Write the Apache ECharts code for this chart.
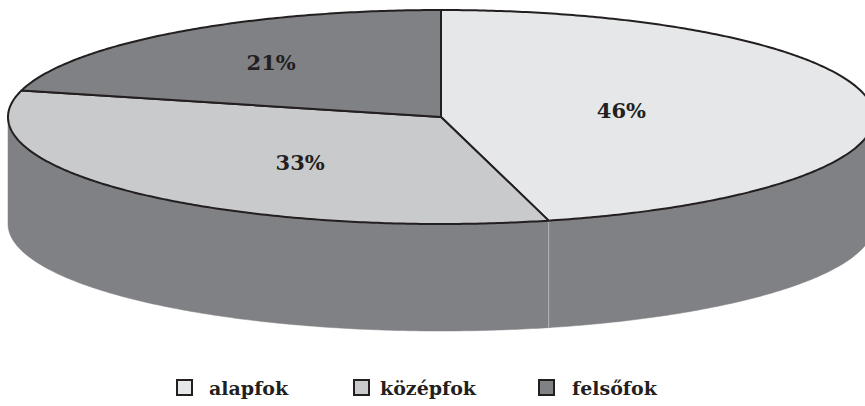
<!DOCTYPE html>
<html><head><meta charset="utf-8">
<script src="https://cdn.jsdelivr.net/npm/echarts@6/dist/echarts.min.js"></script>
<style>html,body{margin:0;padding:0;background:#fff}#c{width:865px;height:406px}</style>
</head><body><div id="c"></div>
<script>
const categories = ['alapfok', 'középfok', 'felsőfok'];
const values = [46, 33, 21];
const topColors = ['#e6e7e8', '#c9cacc', '#808185'];
const sideColor = '#808185';
const labelK = [[0.42, 0.52], [0.46, 0.6], [0.64, 0.64]];
const legendLeft = [176, 353, 538];
const legendTextPad = [12, 6, 13];

const total = values.reduce((a, b) => a + b, 0);
const starts = []; let acc = 0; values.forEach(v => { starts.push(acc); acc += v; });

const G = {cx: 441, cy: 117, rx: 433, ry: 107, depth: 107};
function pt(t, dy) { return [G.cx + G.rx * Math.sin(t), G.cy - G.ry * Math.cos(t) + (dy || 0)]; }
function arc(a0, a1, dy) {
  const n = Math.max(2, Math.ceil((a1 - a0) / 0.01)); const out = [];
  for (let i = 0; i <= n; i++) out.push(pt(a0 + (a1 - a0) * i / n, dy));
  return out;
}
function makeRender(i) {
  return function (params, api) {
    const v = api.value(0), s = api.value(1);
    const a0 = s / total * 2 * Math.PI, a1 = (s + v) / total * 2 * Math.PI;
    const children = [];
    const f0 = Math.max(a0, Math.PI / 2), f1 = Math.min(a1, 1.5 * Math.PI);
    if (f1 > f0) {
      const top = arc(f0, f1, 0), bot = arc(f0, f1, G.depth).reverse();
      children.push({type: 'polygon', shape: {points: top.concat(bot)}, style: {fill: sideColor, stroke: sideColor, lineWidth: 0.5}});
      if (a0 > Math.PI / 2 && a0 < 1.5 * Math.PI) {
        const p = pt(a0, 0);
        children.push({type: 'line', shape: {x1: p[0], y1: p[1], x2: p[0], y2: p[1] + G.depth}, style: {stroke: '#b4b5b8', lineWidth: 1}});
      }
    }
    const topPts = [[G.cx, G.cy]].concat(arc(a0, a1, 0));
    children.push({type: 'polygon', shape: {points: topPts}, style: {fill: topColors[i], stroke: '#231f20', lineWidth: 2, lineJoin: 'round'}});
    const m = (a0 + a1) / 2;
    children.push({type: 'text', style: {
      text: v + '%',
      x: G.cx + G.rx * labelK[i][0] * Math.sin(m),
      y: G.cy - G.ry * labelK[i][1] * Math.cos(m),
      align: 'center', verticalAlign: 'middle',
      font: 'bold 21px "DejaVu Serif"', fill: '#231f20'}});
    return {type: 'group', children};
  };
}

const chart = echarts.init(document.getElementById('c'), null, {renderer: 'svg'});
chart.setOption({
  animation: false,
  legend: categories.map((c, i) => ({
    data: [c], left: legendLeft[i], top: 378, padding: 0,
    icon: 'rect', itemWidth: 15, itemHeight: 15,
    itemStyle: {borderColor: '#231f20', borderWidth: 2},
    textStyle: {fontFamily: 'DejaVu Serif', fontWeight: 'bold', fontSize: 19, color: '#231f20', padding: [0, 0, 0, legendTextPad[i]]},
    selectedMode: false
  })),
  series: categories.map((c, i) => ({
    type: 'custom', name: c, coordinateSystem: 'none', silent: true,
    itemStyle: {color: topColors[i]},
    data: [[values[i], starts[i]]],
    renderItem: makeRender(i)
  }))
});
</script></body></html>
